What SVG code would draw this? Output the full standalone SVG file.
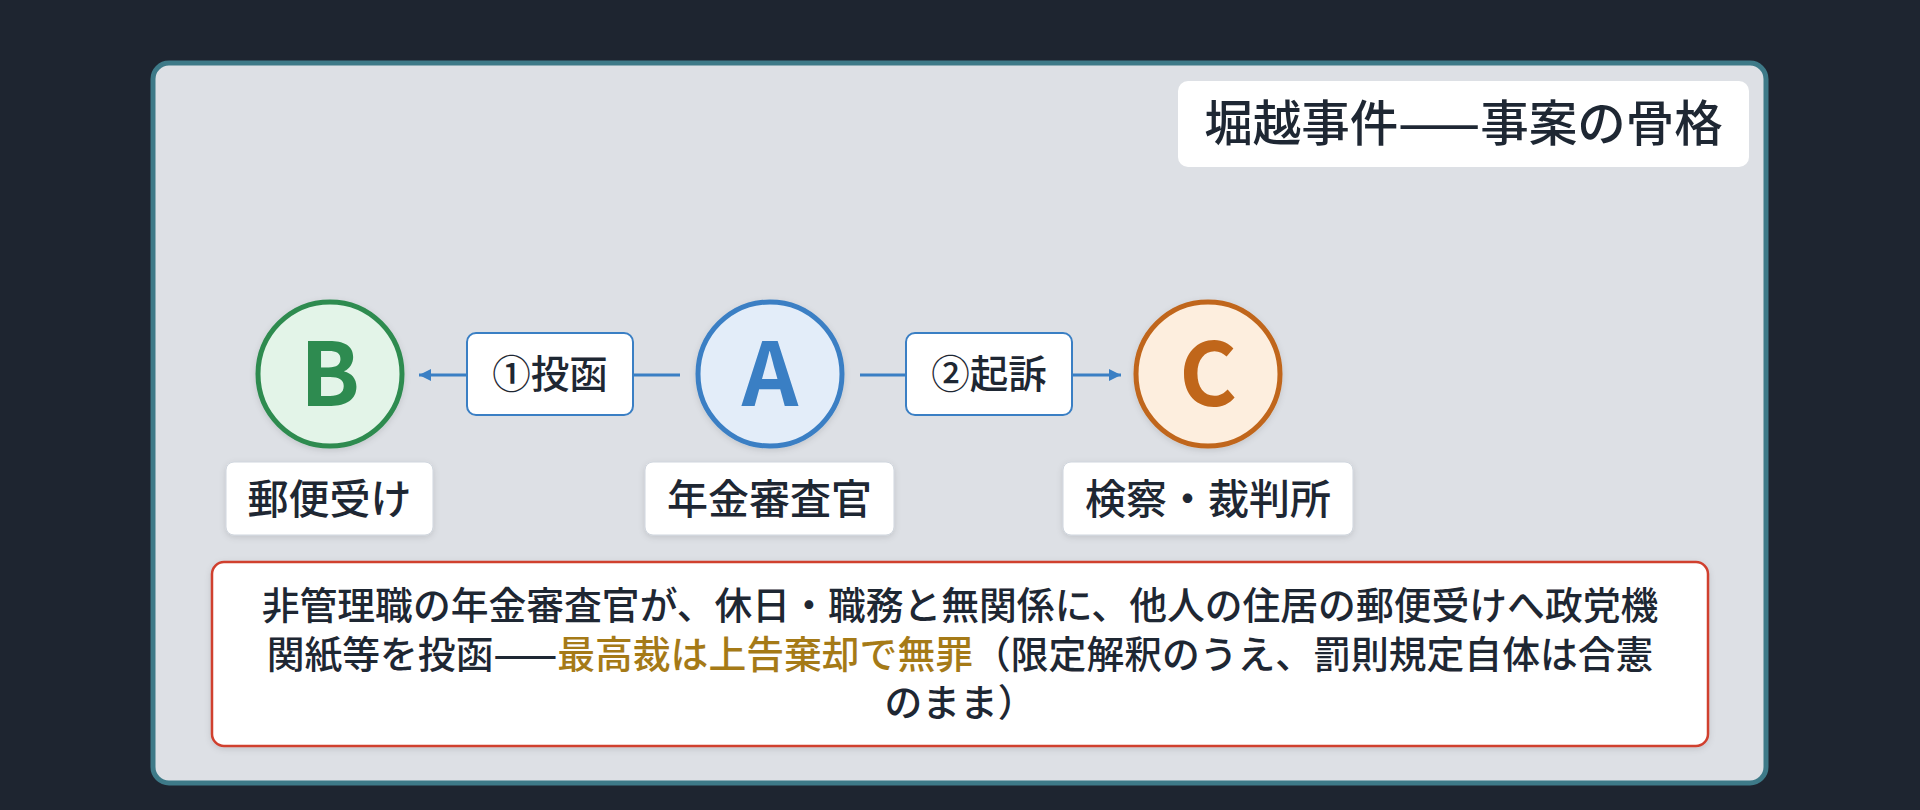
<svg xmlns="http://www.w3.org/2000/svg" width="1920" height="810" viewBox="0 0 1920 810">
<defs>
<style>
.jp{font-family:"Noto Sans CJK JP","Noto Sans",sans-serif;fill:#1e2733}
.title{font-size:48.5px;font-weight:500}
.lbl{font-size:41px;font-weight:500}
.elbl{font-size:38.5px;font-weight:500}
.desc{font-size:37.8px;font-weight:500}
.hl{fill:#a57a17}
.letter{font-family:"Noto Sans CJK JP","Noto Sans",sans-serif;font-size:88px;font-weight:700}
.card{fill:#ffffff;stroke:#cfd5dd;stroke-width:1}
.ebox{fill:#ffffff;stroke:#3a7fc4;stroke-width:2}
.edge{stroke:#3a7fc4;stroke-width:3;fill:none}
</style>
<filter id="sh" x="-20%" y="-20%" width="140%" height="150%">
<feDropShadow dx="0" dy="2" stdDeviation="3" flood-color="#000" flood-opacity="0.12"/>
</filter>
<marker id="arr" viewBox="0 0 10 10" refX="10" refY="5" markerWidth="4" markerHeight="4" orient="auto" markerUnits="strokeWidth">
<path d="M0,0 L10,5 L0,10 z" fill="#3a7fc4"/>
</marker>
</defs>
<rect x="0" y="0" width="1920" height="810" fill="#1e2530"/>
<rect id="panel" x="153" y="63" width="1613" height="720" rx="16" fill="#dde0e5" stroke="#3e7a88" stroke-width="5"/>

<g id="title">
<rect x="1178" y="81" width="571" height="86" rx="10" fill="#ffffff"/>
<text class="jp title" x="1463.5" y="141" text-anchor="middle">堀越事件——事案の骨格</text>
</g>

<g id="connectors">
<line class="edge" x1="467" y1="375" x2="419" y2="375" marker-end="url(#arr)"/>
<line class="edge" x1="680" y1="375" x2="633" y2="375"/>
<line class="edge" x1="860" y1="375" x2="906" y2="375"/>
<line class="edge" x1="1072" y1="375" x2="1121" y2="375" marker-end="url(#arr)"/>
<g id="edge-label-1">
<rect class="ebox" x="467" y="333" width="166" height="82" rx="9"/>
<text class="jp elbl" x="550" y="388" text-anchor="middle">①投函</text>
</g>
<g id="edge-label-2">
<rect class="ebox" x="906" y="333" width="166" height="82" rx="9"/>
<text class="jp elbl" x="989" y="388" text-anchor="middle">②起訴</text>
</g>
</g>

<g id="node-B">
<circle cx="330" cy="374" r="72" fill="#e3f4e8" stroke="#2e8b50" stroke-width="5" filter="url(#sh)"/>
<text class="letter" x="330" y="406" text-anchor="middle" fill="#2e8b50">B</text>
<rect class="card" x="226" y="462" width="207" height="73" rx="8" filter="url(#sh)"/>
<text class="jp lbl" x="329.5" y="514" text-anchor="middle">郵便受け</text>
</g>

<g id="node-A">
<circle cx="770" cy="374" r="72" fill="#e3edf9" stroke="#3a7fc4" stroke-width="5" filter="url(#sh)"/>
<text class="letter" x="770" y="406" text-anchor="middle" fill="#3a7fc4">A</text>
<rect class="card" x="645" y="462" width="249" height="73" rx="8" filter="url(#sh)"/>
<text class="jp lbl" x="769.5" y="514" text-anchor="middle">年金審査官</text>
</g>

<g id="node-C">
<circle cx="1208" cy="374" r="72" fill="#fdeede" stroke="#c0661a" stroke-width="5" filter="url(#sh)"/>
<text class="letter" x="1208" y="406" text-anchor="middle" fill="#c0661a">C</text>
<rect class="card" x="1063" y="462" width="290" height="73" rx="8" filter="url(#sh)"/>
<text class="jp lbl" x="1208" y="514" text-anchor="middle">検察・裁判所</text>
</g>

<g id="summary">
<rect x="212" y="562" width="1496" height="184" rx="12" fill="#ffffff" stroke="#d0402f" stroke-width="2.5" filter="url(#sh)"/>
<text class="jp desc" x="960" y="619" text-anchor="middle">非管理職の年金審査官が、休日・職務と無関係に、他人の住居の郵便受けへ政党機</text>
<text class="jp desc" x="960" y="668" text-anchor="middle">関紙等を投函——<tspan class="hl">最高裁は上告棄却で無罪</tspan>（限定解釈のうえ、罰則規定自体は合憲</text>
<text class="jp desc" x="960" y="716" text-anchor="middle">のまま）</text>
</g>
</svg>
